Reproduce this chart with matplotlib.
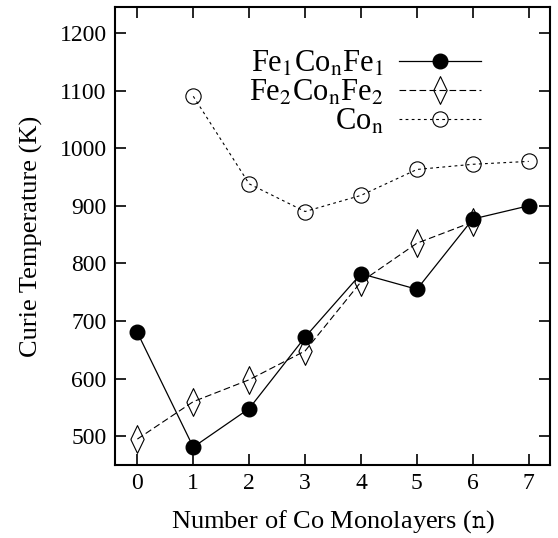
import matplotlib
matplotlib.use("Agg")
import matplotlib.pyplot as plt

plt.rcParams['font.family'] = ['Liberation Serif', 'DejaVu Serif']
plt.rcParams['mathtext.fontset'] = 'stix'

n_fe1 = [0, 1, 2, 3, 4, 5, 6, 7]
tc_fe1 = [680, 481, 548, 672, 782, 755, 877, 900]
n_fe2 = [0, 1, 2, 3, 4, 5, 6]
tc_fe2 = [495, 560, 598, 648, 768, 835, 872]
n_co = [1, 2, 3, 4, 5, 6, 7]
tc_co = [1090, 938, 890, 918, 963, 972, 977]
yticks = [500, 600, 700, 800, 900, 1000, 1100, 1200]

fig = plt.figure(figsize=(5.58, 5.38), dpi=100)
ax = fig.add_axes([115/558, 1-465/538, 435/558, 458/538])

diamond = [(-0.24, 0), (0, 0.5), (0.24, 0), (0, -0.5), (-0.24, 0)]

ax.plot(n_fe1, tc_fe1, '-', color='black', lw=0.9, marker='o', ms=10.5,
        mfc='black', mec='black', label=r'Fe$_1$Co$_\mathrm{n}$Fe$_1$', zorder=3)
ax.plot(n_fe2, tc_fe2, '--', color='black', lw=0.8, dashes=(6, 3), marker=diamond, ms=20,
        mfc='none', mec='black', mew=0.8, label=r'Fe$_2$Co$_\mathrm{n}$Fe$_2$')
ax.plot(n_co, tc_co, ':', color='black', lw=0.8, dashes=(2.5, 3), marker='o', ms=11,
        mfc='none', mec='black', mew=0.8, label=r'Co$_\mathrm{n}$')

ax.set_xlim(-0.4, 7.38)
ax.set_ylim(450, 1245)
ax.set_xticks(range(8))
ax.set_yticks(yticks)
ax.tick_params(direction='in', length=8, width=1.2, top=True, right=True, labelsize=17, pad=6)
for s in ax.spines.values():
    s.set_linewidth(1.5)

ax.set_xlabel(r'Number of Co Monolayers ($\mathtt{n}$)', fontsize=19, labelpad=10)
ax.set_ylabel('Curie Temperature (K)', fontsize=19, labelpad=12)

leg = ax.legend(loc='upper right', bbox_to_anchor=(0.905, 0.968), frameon=False, markerfirst=False,
                fontsize=22, handlelength=2.7, labelspacing=0.0, handletextpad=0.5)

fig.savefig('out.png', dpi=100)
